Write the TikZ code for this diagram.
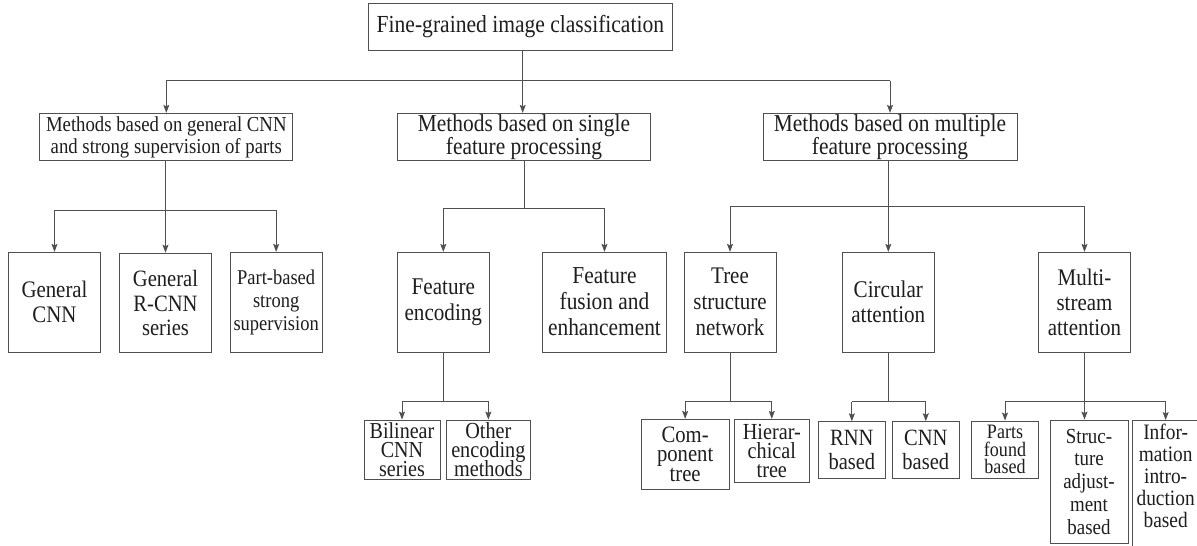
\documentclass[tikz,border=0pt]{standalone}
\usepackage{fontspec}
\setmainfont{Liberation Serif}[FakeStretch=0.88]
\usetikzlibrary{arrows.meta}

\definecolor{linec}{HTML}{505050}
\definecolor{txtc}{HTML}{1E1E1E}
% font size / baseline skip, allowing tightly packed lines
\newcommand\sizeto[2]{\fontsize{#1}{#2}\selectfont\lineskiplimit=-60pt\lineskip=0pt}

\tikzset{
  box/.style={draw=linec, line width=0.9pt, align=center, inner sep=0pt,
    text=txtc, font=\sizeto{24}{22.7}},
  wire/.style={draw=linec, line width=0.9pt},
  arr/.style={-{Stealth[length=8pt,width=6pt,inset=1.5pt]}},
  lvltwo/.style={box, minimum height=99.7pt},
}

\begin{document}
\begin{tikzpicture}[x=1pt,y=-1pt]
\useasboundingbox (0,0) rectangle (1197,546);
\fill[white] (0,0) rectangle (1197,546);

% root
\node[box, minimum width=303.5pt, minimum height=47.4pt, font=\sizeto{24.5}{24}] (root) at (520.4,27) {Fine-grained image classification};

% first level
\node[box, minimum width=253pt, minimum height=47.4pt, font=\sizeto{21.3}{22}] (gen) at (166.3,137) {Methods based on general CNN\\and strong supervision of parts};
\node[box, minimum width=253.4pt, minimum height=47.4pt, font=\sizeto{24.3}{22.7}] (single) at (524,137) {Methods based on single\\feature processing};
\node[box, minimum width=254.1pt, minimum height=47.4pt, font=\sizeto{24.3}{22.7}] (multi) at (890,137) {Methods based on multiple\\feature processing};

% second level
\node[lvltwo, minimum width=92.4pt, font=\sizeto{23.7}{24.7}] (gcnn) at (54.5,302.15) {General\\CNN};
\node[lvltwo, minimum width=91.6pt, font=\sizeto{23.4}{24.5}] (rcnn) at (165.5,303) {General\\R-CNN\\series};
\node[lvltwo, minimum width=92.3pt, font=\sizeto{21}{23}] (part) at (276.15,302.15) {Part-based\\strong\\supervision};
\node[lvltwo, minimum width=92pt, font=\sizeto{24}{26}] (fenc) at (443.3,302.15) {Feature\\encoding};
\node[lvltwo, minimum width=124.4pt, font=\sizeto{24.3}{26}] (ffus) at (604.5,302.15) {Feature\\fusion and\\enhancement};
\node[lvltwo, minimum width=92pt, font=\sizeto{23.8}{26}] (tree) at (730,302.15) {Tree\\structure\\network};
\node[lvltwo, minimum width=92pt, font=\sizeto{24}{25}] (circ) at (888.3,302.15) {Circular\\attention};
\node[lvltwo, minimum width=92.4pt, font=\sizeto{23.8}{25}] (mstr) at (1084.5,302.15) {Multi-\\stream\\attention};

% third level
\node[box, minimum width=76pt, minimum height=59.3pt, font=\sizeto{22.8}{19.3}] (bil) at (402,449.65) {Bilinear\\CNN\\series};
\node[box, minimum width=83.3pt, minimum height=59.3pt, font=\sizeto{23}{19.3}] (oth) at (488.35,449.65) {Other\\encoding\\methods};
\node[box, minimum width=88.3pt, minimum height=70pt, font=\sizeto{23.5}{19.5}] (comp) at (685.15,454.3) {Com-\\ponent\\tree};
\node[box, minimum width=75pt, minimum height=63.4pt, font=\sizeto{23}{19.3}] (hier) at (771.8,451) {Hierar-\\chical\\tree};
\node[box, minimum width=66.3pt, minimum height=57pt, font=\sizeto{23.3}{24.3}] (rnn) at (851.85,450.2) {RNN\\based};
\node[box, minimum width=67pt, minimum height=56.6pt, font=\sizeto{23.3}{24.3}] (cnnb) at (925.8,450) {CNN\\based};
\node[box, minimum width=66.6pt, minimum height=57.3pt, font=\sizeto{20.5}{17.6}] (parts) at (1005,449.65) {Parts\\found\\based};
\node[box, minimum width=78pt, minimum height=123.3pt, font=\sizeto{21.5}{22.7}] (struct) at (1089,481.65) {Struc-\\ture\\adjust-\\ment\\based};
\node[box, minimum width=66.7pt, minimum height=140pt, anchor=north,
  label={[anchor=north, align=center, inner sep=0pt, text=txtc,
          font=\sizeto{22}{22}, label distance=-3.5pt]north:Infor-\\mation\\intro-\\duction\\based}]
  (info) at (1165.65,420) {};

% bus levels
\coordinate (b0) at (522.7,80.7);
\coordinate (b1) at (0,210);
\coordinate (b2) at (0,208.3);
\coordinate (b3) at (0,206.7);
\coordinate (b4) at (0,401);
\coordinate (b5) at (0,401.7);
\coordinate (b6) at (0,401.7);
\coordinate (b7) at (0,401.7);

% root -> first level
\draw[wire] (root.south -| b0) -- (b0);
\draw[wire] (gen.north |- b0) -- (multi.north |- b0);
\draw[wire,arr] (b0) -- (b0 |- single.north);
\draw[wire,arr] (gen.north |- b0) -- (gen.north);
\draw[wire,arr] (multi.north |- b0) -- (multi.north);

% general CNN branch
\draw[wire,arr] (rcnn.north |- gen.south) -- (rcnn.north);
\draw[wire] (gcnn.north |- b1) -- (part.north |- b1);
\draw[wire,arr] (gcnn.north |- b1) -- (gcnn.north);
\draw[wire,arr] (part.north |- b1) -- (part.north);

% single feature branch
\draw[wire] (single.south) -- (single.south |- b2);
\draw[wire] (fenc.north |- b2) -- (ffus.north |- b2);
\draw[wire,arr] (fenc.north |- b2) -- (fenc.north);
\draw[wire,arr] (ffus.north |- b2) -- (ffus.north);

% multiple feature branch
\draw[wire,arr] (circ.north |- multi.south) -- (circ.north);
\draw[wire] (tree.north |- b3) -- (mstr.north |- b3);
\draw[wire,arr] (tree.north |- b3) -- (tree.north);
\draw[wire,arr] (mstr.north |- b3) -- (mstr.north);

% feature encoding
\draw[wire] (fenc.south) -- (fenc.south |- b4);
\draw[wire] (bil.north |- b4) -- (oth.north |- b4);
\draw[wire,arr] (bil.north |- b4) -- (bil.north);
\draw[wire,arr] (oth.north |- b4) -- (oth.north);

% tree structure network
\draw[wire] (tree.south) -- (tree.south |- b5);
\draw[wire] (comp.north |- b5) -- (hier.north |- b5);
\draw[wire,arr] (comp.north |- b5) -- (comp.north);
\draw[wire,arr] (hier.north |- b5) -- (hier.north);

% circular attention
\draw[wire] (circ.south) -- (circ.south |- b6);
\draw[wire] (rnn.north |- b6) -- (cnnb.north |- b6);
\draw[wire,arr] (rnn.north |- b6) -- (rnn.north);
\draw[wire,arr] (cnnb.north |- b6) -- (cnnb.north);

% multi-stream attention
\draw[wire,arr] (mstr.south) -- (mstr.south |- struct.north);
\draw[wire] (parts.north |- b7) -- (info.north |- b7);
\draw[wire,arr] (parts.north |- b7) -- (parts.north);
\draw[wire,arr] (info.north |- b7) -- (info.north);
\end{tikzpicture}
\end{document}
